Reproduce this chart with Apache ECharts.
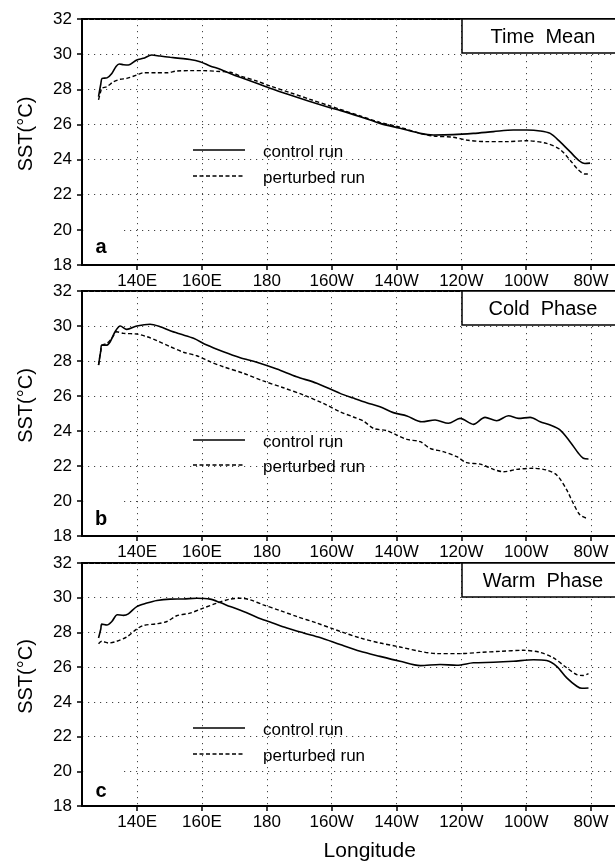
<!DOCTYPE html>
<html><head><meta charset="utf-8">
<script src="https://cdn.jsdelivr.net/npm/echarts@6/dist/echarts.min.js"></script>
<style>html,body{margin:0;padding:0;overflow:hidden;background:#fff}#c{width:640px;height:863px}</style>
</head><body><div id="c"></div>
<script>
// ---- data ----
const xTickValues = [140, 160, 180, 200, 220, 240, 260, 280];
const xTickLabels = ['140E', '160E', '180', '160W', '140W', '120W', '100W', '80W'];
const panelTitles = ['Time Mean', 'Cold Phase', 'Warm Phase'];
const panelLetters = ['a', 'b', 'c'];
const seriesNames = ['control run', 'perturbed run'];

// [longitude (deg E, 0-360), SST degC]
const controlTimeMean = [[128.1,27.58],[128.8,28.3],[129.2,28.62],[130.7,28.65],[132.2,28.9],[133.5,29.3],[134.5,29.44],[135.8,29.4],[137.3,29.38],[139.9,29.67],[141.9,29.76],[144.5,29.95],[147.1,29.89],[150.2,29.82],[153.3,29.76],[156.3,29.7],[159.4,29.57],[162.5,29.33],[165.6,29.14],[168.7,28.9],[171.8,28.68],[176.9,28.34],[181,28.06],[187.2,27.67],[193.3,27.3],[199.5,26.95],[202.6,26.8],[208.8,26.44],[214.9,26.06],[221.1,25.78],[227.3,25.49],[231.4,25.4],[237.5,25.42],[243.7,25.49],[249.9,25.59],[256,25.68],[260.2,25.68],[264.3,25.63],[267.4,25.49],[270.4,25.02],[273.5,24.45],[276.1,23.97],[278.1,23.78],[279.7,23.8]];
const perturbedTimeMean = [[128.1,27.4],[128.8,27.9],[129.1,28.06],[130.7,28.15],[132.7,28.43],[134.8,28.57],[136.8,28.62],[139.9,28.81],[141.9,28.94],[146.1,28.94],[149.2,28.94],[152.2,29.04],[156.3,29.06],[160.4,29.06],[164.6,29.02],[168.7,28.97],[171.8,28.76],[176.9,28.47],[181,28.19],[187.2,27.81],[193.3,27.43],[199.5,27.05],[202.6,26.86],[208.8,26.48],[214.9,26.12],[221.1,25.84],[227.3,25.49],[231.4,25.34],[237.5,25.27],[241.6,25.11],[247.8,25.02],[254,25.02],[260.2,25.07],[266.3,24.92],[270.4,24.58],[273.5,23.97],[276.1,23.41],[278.1,23.18],[279.7,23.18]];
const controlCold = [[128.1,27.77],[128.8,28.6],[129.1,28.91],[130.7,28.91],[131.7,29.1],[133.2,29.67],[134.8,30.0],[136.8,29.81],[139.9,30.0],[144,30.1],[147.1,29.96],[150.2,29.73],[153.3,29.54],[157.4,29.3],[161.5,28.91],[166.6,28.53],[171.8,28.19],[176.9,27.93],[183.1,27.54],[189.2,27.1],[195.4,26.73],[202.6,26.15],[206.7,25.88],[210.8,25.62],[214.9,25.39],[219,25.05],[223.2,24.86],[227.8,24.53],[231.9,24.63],[236,24.44],[239.6,24.72],[243.7,24.38],[247.3,24.78],[250.9,24.59],[254.5,24.87],[257.6,24.72],[261.2,24.78],[264.3,24.53],[267.4,24.34],[270.4,24.06],[273.5,23.39],[276.1,22.73],[277.6,22.44],[279.2,22.4]];
const perturbedCold = [[128.1,27.77],[128.8,28.6],[129.3,28.9],[130.7,29.01],[132.2,29.3],[133.7,29.67],[135.8,29.58],[139.9,29.54],[143,29.39],[146.1,29.16],[150.2,28.82],[154.3,28.5],[158.4,28.3],[162.5,27.96],[166.6,27.67],[172.8,27.3],[178.9,26.86],[185.1,26.47],[191.3,26.06],[197.4,25.58],[202.6,25.1],[206.7,24.8],[209.8,24.57],[212.9,24.15],[217,24.02],[220.1,23.77],[223.2,23.52],[227.3,23.39],[230.3,23.01],[234.4,22.82],[238.6,22.53],[241.6,22.19],[245.8,22.11],[249.9,21.81],[253,21.67],[257.1,21.81],[262.2,21.87],[266.3,21.77],[269.4,21.49],[272.5,20.63],[274.5,19.87],[276.6,19.2],[278.7,19.01]];
const controlWarm = [[128.1,27.68],[128.8,28.2],[129.1,28.48],[130.7,28.43],[132.2,28.63],[133.9,29.02],[135.8,28.98],[137.3,29.07],[139.9,29.49],[143,29.69],[146.1,29.84],[150.2,29.92],[154.3,29.93],[158.4,29.97],[162.5,29.92],[165.6,29.72],[168.7,29.49],[172.8,29.21],[176.9,28.88],[181,28.6],[186.2,28.25],[191.3,27.97],[196.4,27.71],[202.6,27.3],[208.8,26.91],[214.9,26.62],[221.1,26.34],[227.3,26.09],[233.4,26.15],[238.6,26.11],[243.7,26.25],[249.9,26.28],[256,26.34],[262.2,26.43],[266.3,26.38],[269.4,26.05],[272.5,25.38],[275.6,24.9],[277.2,24.78],[279.2,24.8]];
const perturbedWarm = [[128.1,27.35],[129.1,27.49],[131.2,27.39],[133.7,27.49],[136.8,27.74],[139.9,28.2],[141.9,28.4],[146.1,28.5],[149.2,28.63],[152.2,28.96],[156.3,29.11],[160.4,29.4],[164.6,29.69],[168.7,29.92],[171.8,29.97],[174.8,29.88],[178.9,29.59],[184.1,29.26],[189.2,28.92],[195.4,28.54],[200.5,28.2],[202.6,28.06],[208.8,27.68],[214.9,27.39],[221.1,27.16],[227.3,26.91],[232.4,26.78],[239.6,26.78],[245.8,26.85],[251.9,26.91],[259.1,26.97],[264.3,26.85],[268.4,26.53],[272.5,25.96],[275.6,25.57],[277.6,25.52],[279.2,25.63]];

const panelData = [
  [controlTimeMean, perturbedTimeMean],
  [controlCold, perturbedCold],
  [controlWarm, perturbedWarm]
];

// ---- layout ----
const FONT = 'Liberation Sans';
const gridLeft = 82, gridRight = 16.5;
const panelTop = [19, 291, 563];
const panelHeight = [246, 245, 244];
const legendY = [[150, 176], [440, 465], [728, 754]];

const grids = [], xAxes = [], yAxes = [], series = [], graphics = [];
const splitStyle = { show: true, lineStyle: { color: '#444', width: 1, type: [1.2, 4.8] } };

for (let p = 0; p < 3; p++) {
  grids.push({ left: gridLeft, right: gridRight, top: panelTop[p], height: panelHeight[p],
    show: true, borderColor: '#000', borderWidth: 2, containLabel: false });
  xAxes.push({
    type: 'value', gridIndex: p, min: 123, max: 290, splitNumber: 8, minInterval: 20, maxInterval: 20,
    axisLine: { show: true, lineStyle: { color: '#000', width: 2 } },
    axisTick: { show: true, inside: false, length: 5, lineStyle: { color: '#000', width: 1.5 } },
    axisLabel: { show: true, margin: 8, color: '#000', fontFamily: FONT, fontSize: 17,
      showMinLabel: false, showMaxLabel: false,
      formatter: v => { const i = xTickValues.indexOf(Math.round(v)); return (i >= 0 && Math.abs(v - Math.round(v)) < 1e-6) ? xTickLabels[i] : ''; } },
    splitLine: splitStyle,
    name: p === 2 ? 'Longitude' : '', nameLocation: 'middle', nameGap: 35,
    nameTextStyle: { color: '#000', fontFamily: FONT, fontSize: 21, padding: [0, 0, 0, 34] }
  });
  yAxes.push({
    type: 'value', gridIndex: p, min: 18, max: 32, interval: 2,
    axisLine: { show: true, lineStyle: { color: '#000', width: 2 } },
    axisTick: { show: true, inside: false, length: 5, lineStyle: { color: '#000', width: 1.5 } },
    axisLabel: { margin: 10, color: '#000', fontFamily: FONT, fontSize: 17 },
    splitLine: splitStyle,
    name: 'SST(°C)', nameLocation: 'middle', nameGap: 46, nameRotate: 90,
    nameTextStyle: { color: '#000', fontFamily: FONT, fontSize: 20, padding: [0, 0, 0, 16] }
  });
  panelData[p].forEach((d, k) => {
    series.push({
      name: seriesNames[k], type: 'line', xAxisIndex: p, yAxisIndex: p, data: d,
      symbol: 'none', smooth: 0.3, z: 3,
      lineStyle: k === 0 ? { color: '#000', width: 1.6, type: 'solid' }
                         : { color: '#000', width: 1.4, type: [4, 2.5] }
    });
  });

  const T = panelTop[p];
  // title box
  graphics.push({ type: 'rect', z: 10, shape: { x: 462, y: T, width: 200, height: 34 },
    style: { fill: '#fff', stroke: '#000', lineWidth: 1.5 } });
  graphics.push({ type: 'text', z: 11, x: 543, y: T + 18,
    style: { text: panelTitles[p].replace(' ', '  '), font: '20px "' + FONT + '"', fill: '#000', align: 'center', verticalAlign: 'middle' } });
  // panel letter with white patch
  graphics.push({ type: 'rect', z: 10, shape: { x: 84, y: T + 207, width: 36, height: 32 },
    style: { fill: '#fff' } });
  graphics.push({ type: 'text', z: 11, x: 101, y: T + 228,
    style: { text: panelLetters[p], font: 'bold 20px "' + FONT + '"', fill: '#000', align: 'center', verticalAlign: 'middle' } });
  // legend
  [0, 1].forEach(k => {
    const y = legendY[p][k];
    graphics.push({ type: 'line', z: 11, shape: { x1: 193, y1: y, x2: 245, y2: y },
      style: { stroke: '#000', lineWidth: k === 0 ? 1.6 : 1.4, lineDash: k === 0 ? null : [4, 2.5] } });
    graphics.push({ type: 'text', z: 11, x: 263, y: y + 2,
      style: { text: seriesNames[k], font: '17px "' + FONT + '"', fill: '#000', align: 'left', verticalAlign: 'middle' } });
  });
}

const chart = echarts.init(document.getElementById('c'), null, { renderer: 'canvas' });
chart.setOption({
  animation: false,
  backgroundColor: '#fff',
  grid: grids, xAxis: xAxes, yAxis: yAxes, series: series,
  graphic: { elements: graphics }
});
</script></body></html>
